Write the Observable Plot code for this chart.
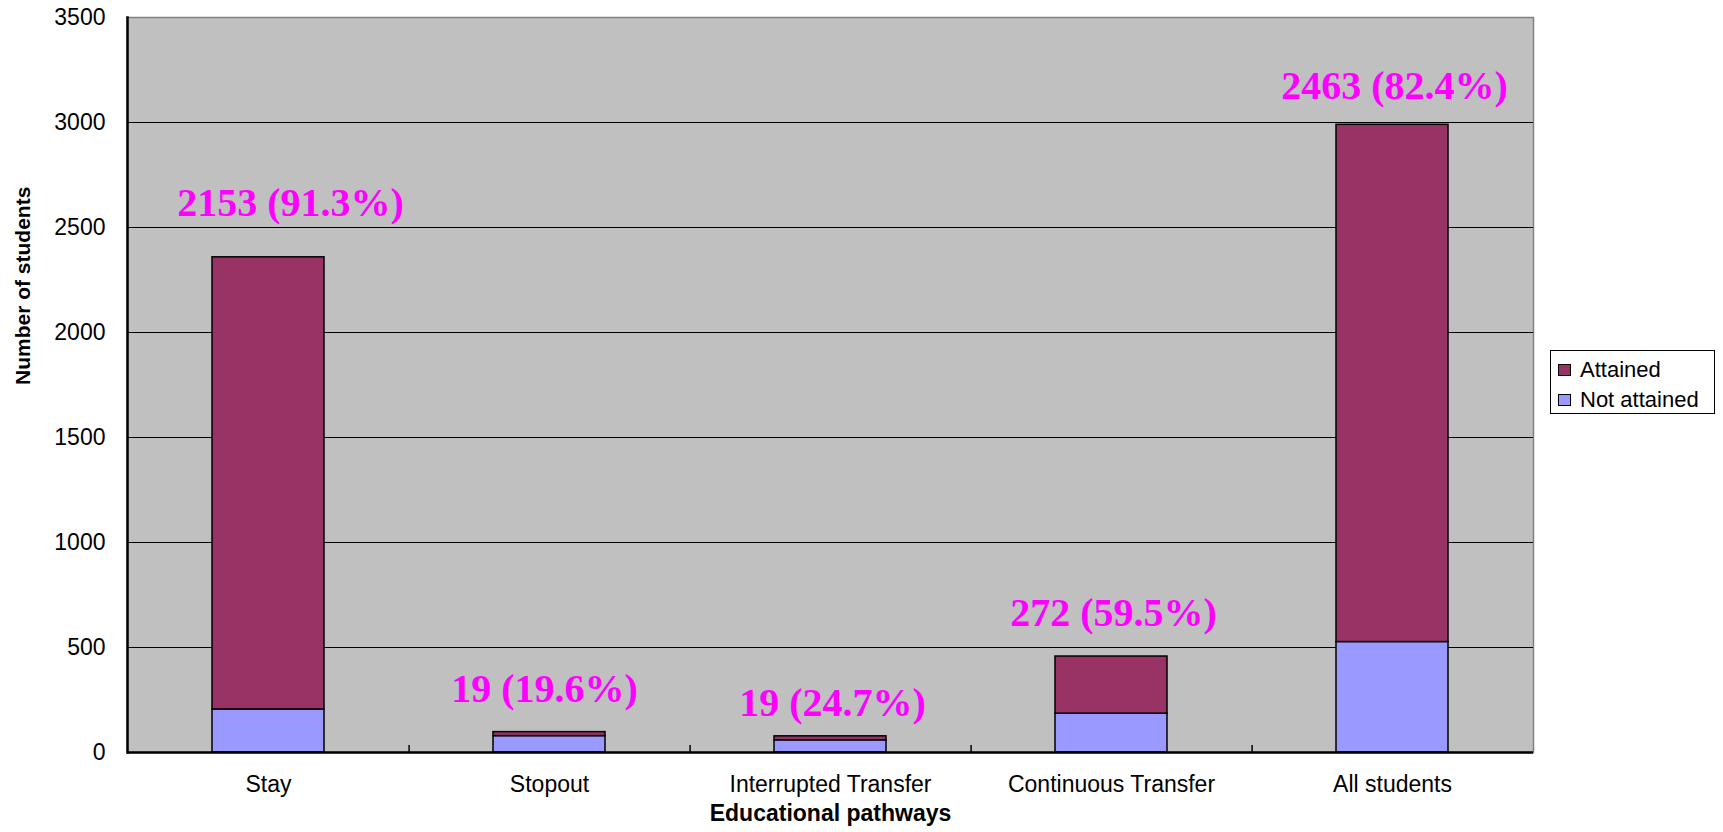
<!DOCTYPE html>
<html>
<head>
<meta charset="utf-8">
<script src="https://cdn.jsdelivr.net/npm/d3@7"></script>
<script src="https://cdn.jsdelivr.net/npm/@observablehq/plot@0.6"></script>
<style>
  html, body { margin: 0; padding: 0; background: #fff; overflow: hidden; }
  #wrap { position: relative; width: 1723px; height: 832px; font-family: "Liberation Sans", Arial, sans-serif; }
  #wrap svg { display: block; }
  #legend { position: absolute; left: 1550px; top: 350px; width: 165px; height: 64px; border: 1px solid #000; background: #fff; box-sizing: border-box; padding: 4px 0 0 7px; }
  .li { display: flex; align-items: center; height: 30px; font-size: 22px; color: #000; }
  .sw { width: 13px; height: 12px; border: 1px solid #000; margin-right: 9px; box-sizing: border-box; }
</style>
</head>
<body>
<div id="wrap"></div>
<script>
// ---- data ----
const categories = ["Stay", "Stopout", "Interrupted Transfer", "Continuous Transfer", "All students"];
const attained = [2153, 19, 19, 272, 2463];
const notAttained = [205, 78, 58, 185, 526];
const attainedPct = [91.3, 19.6, 24.7, 59.5, 82.4];
const seriesNames = ["Attained", "Not attained"];
const seriesColors = ["#993366", "#9999FF"];
const yTicks = [0, 500, 1000, 1500, 2000, 2500, 3000, 3500];
const yTitle = "Number of students";
const xTitle = "Educational pathways";

// ---- layout ----
const W = 1723, H = 832;
const mL = 127, mR = 190, mT = 17, mB = 80;
const step = (W - mL - mR) / categories.length;

const rows = [];
categories.forEach((c, i) => {
  rows.push({cat: c, series: "Not attained", value: notAttained[i]});
  rows.push({cat: c, series: "Attained", value: attained[i]});
});
const totals = categories.map((c, i) => ({
  cat: c,
  total: attained[i] + notAttained[i],
  label: `${attained[i]} (${attainedPct[i].toFixed(1)}%)`
}));
// label nudges (px) relative to bar top / centre
const nudge = {
  "Stay": [22, -41],
  "Stopout": [-5, -30],
  "Interrupted Transfer": [2, -20],
  "Continuous Transfer": [2, -31],
  "All students": [2, -26]
};

const chart = Plot.plot({
  width: W,
  height: H,
  marginLeft: mL,
  marginRight: mR,
  marginTop: mT,
  marginBottom: mB,
  style: {fontFamily: "'Liberation Sans', Arial, sans-serif", background: "transparent"},
  x: {domain: categories, paddingInner: 0.6, paddingOuter: 0.3, label: null},
  y: {domain: [0, 3500], label: null},
  color: {domain: seriesNames, range: seriesColors},
  marks: [
    Plot.frame({fill: "#c0c0c0", stroke: "#808080", strokeWidth: 1.5}),
    Plot.ruleY(yTicks.filter(t => t > 0 && t < 3500), {stroke: "#000", strokeWidth: 1.2}),
    Plot.barY(rows, Plot.stackY({
      x: "cat", y: "value", fill: "series",
      order: ["Not attained", "Attained"],
      stroke: "#000", strokeWidth: 1.5
    })),
    Plot.ruleX(categories.slice(0, categories.length - 1), {
      x: d => d, dx: step / 2, y1: 0, y2: 0, insetTop: -7, stroke: "#000", strokeWidth: 1.5
    }),
    Plot.ruleY([0], {stroke: "#000", strokeWidth: 2.5}),
    Plot.frame({anchor: "left", stroke: "#000", strokeWidth: 2.5}),
    Plot.axisY({ticks: yTicks, tickFormat: d => String(d), tickSize: 0, tickPadding: 22, fontSize: 23, fill: "#000", label: null}),
    Plot.axisX({tickSize: 0, tickPadding: 23, fontSize: 23, fill: "#000", label: null}),
    ...totals.map(t => Plot.text([t], {
      x: "cat", y: "total", text: "label",
      dx: nudge[t.cat][0], dy: nudge[t.cat][1],
      lineAnchor: "bottom",
      fill: "#FF00FF", fontSize: 40, fontWeight: "bold",
      fontFamily: "'Liberation Serif', 'Times New Roman', serif"
    })),
    Plot.text([xTitle], {frameAnchor: "bottom", dy: 68, fontSize: 23, fontWeight: "bold", fill: "#000"}),
    Plot.text([yTitle], {frameAnchor: "left", dx: -104, rotate: -90, fontSize: 21, fontWeight: "bold", fill: "#000"})
  ]
});

const wrap = document.getElementById("wrap");
wrap.appendChild(chart);

// legend
const legend = document.createElement("div");
legend.id = "legend";
seriesNames.forEach((s, i) => {
  const li = document.createElement("div");
  li.className = "li";
  const sw = document.createElement("span");
  sw.className = "sw";
  sw.style.background = seriesColors[i];
  const tx = document.createElement("span");
  tx.textContent = s;
  li.appendChild(sw);
  li.appendChild(tx);
  legend.appendChild(li);
});
wrap.appendChild(legend);
</script>
</body>
</html>
